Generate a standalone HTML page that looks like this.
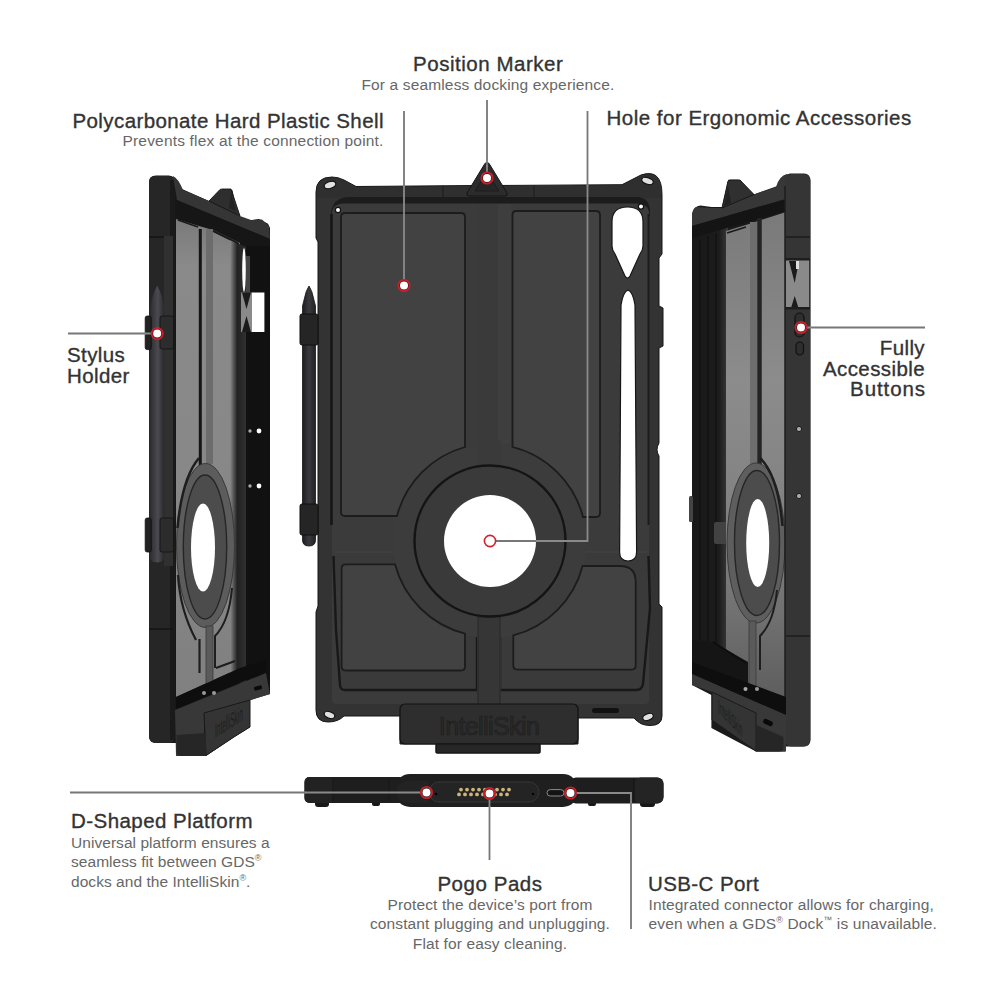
<!DOCTYPE html>
<html><head><meta charset="utf-8">
<style>
html,body{margin:0;padding:0;background:#fff;}
body{width:1000px;height:1000px;position:relative;overflow:hidden;font-family:"Liberation Sans",sans-serif;}
.t{position:absolute;white-space:nowrap;font-weight:normal;font-size:20.5px;line-height:20px;color:#333;-webkit-text-stroke:0.35px #333;letter-spacing:0.4px;}
.s{position:absolute;white-space:nowrap;font-size:15.5px;line-height:19.4px;color:#676767;letter-spacing:0.1px;}
svg{position:absolute;left:0;top:0;}
sup{font-size:9px;vertical-align:6px;line-height:0;}
</style></head><body>
<svg width="1000" height="1000" viewBox="0 0 1000 1000">
<defs>
  <linearGradient id="lgreyL" x1="0" y1="0" x2="0" y2="1">
    <stop offset="0" stop-color="#7a7a7a"/><stop offset="0.1" stop-color="#8a8a8a"/><stop offset="0.5" stop-color="#888"/><stop offset="1" stop-color="#808080"/>
  </linearGradient>
  <linearGradient id="lgreyR" x1="0" y1="0" x2="0" y2="1">
    <stop offset="0" stop-color="#7a7a7a"/><stop offset="0.35" stop-color="#8c8c8c"/><stop offset="0.7" stop-color="#7e7e7e"/><stop offset="1" stop-color="#5e5e5e"/>
  </linearGradient>
  <linearGradient id="wallL" x1="0" y1="0" x2="1" y2="0">
    <stop offset="0" stop-color="#8a8a8a"/><stop offset="0.45" stop-color="#222"/><stop offset="1" stop-color="#303030"/>
  </linearGradient>
  <linearGradient id="wallR" x1="0" y1="0" x2="1" y2="0">
    <stop offset="0" stop-color="#181818"/><stop offset="0.75" stop-color="#1c1c1c"/><stop offset="1" stop-color="#3a3a3a"/>
  </linearGradient>
  <linearGradient id="stylusG" x1="0" y1="0" x2="1" y2="0">
    <stop offset="0" stop-color="#2a2a2e"/><stop offset="0.55" stop-color="#4a4a50"/><stop offset="1" stop-color="#28282c"/>
  </linearGradient>
  <linearGradient id="stylusC" x1="0" y1="0" x2="1" y2="0">
    <stop offset="0" stop-color="#1e1e22"/><stop offset="0.5" stop-color="#3a3a3e"/><stop offset="1" stop-color="#222226"/>
  </linearGradient>
</defs>

<!-- ============ CENTER CASE ============ -->
<g id="center">
  <!-- outer silhouette (frame face) -->
  <path fill="#333" stroke="#161616" stroke-width="1"
   d="M316,192 Q316,177 332,177 Q338,177 344,180 L356,186.5 L478,185.5 L487,163 L496,185.5 L622,184.7 L641,175 Q662,168 662,195 L662,254 L659,258 L659,306 L663,308 L663,346 L659,348 L659,443 Q655,450 659,456 L659,468 L659,604 L662,607 L662,716 Q662,725.5 650,725.5 Q640,725.5 634,718 L578,718 L578,744 L540,744 L540,753 L436,753 L436,744 L400,744 L400,716 L344,716 Q338,722 328,722 Q316,722 316,710 L316,612 L318,606 L318,242 L316,238 Z"/>
  <!-- top rim face darker -->
  <path fill="#2f2f2f" d="M317,192 Q317,178 332,178 L344,181 L356,187.5 L622,185.7 L641,176 Q660,170 660.5,195 L660.5,198 L317,198 Z"/>
  <!-- shadow band under rim -->
  <path fill="#1c1c1c" d="M331,216 Q331,197 350,197 L636,197 Q650,197 650,212 L650,216 L645,216 Q645,204 636,204 L344,204 Q336,204 336,216 Z"/>
  <!-- inner surface -->
  <path fill="#3b3b3b" d="M344,203.5 L636,203.5 Q649,203.5 649,214 L649,700 Q649,704 645,704 L336,704 Q332,704 332,700 L332,214 Q332,203.5 344,203.5 Z"/>
  <!-- side grooves -->
  <path d="M331.5,214 L331.5,525" stroke="#161616" stroke-width="2.6" fill="none"/>
  <path d="M648.5,214 L648.5,525" stroke="#1c1c1c" stroke-width="2" fill="none"/>
  <!-- lower raised sub-panels -->
  <path fill="#3a3a3a" d="M338,553 L476.6,553 L476.6,689.5 L344,689.5 Q340,689.5 340,685 L336,630 L333.5,558 Q333.5,553 338,553 Z"/>
  <path fill="#3a3a3a" d="M500,553 L643,553 Q648,553 648,558 L650,608 L643,684 Q642,689.5 636,689.5 L500,689.5 Z"/>
  <path fill="none" stroke="#181818" stroke-width="2.4" d="M333.5,556 L336,630 L340,685 Q340.5,690 345,690 L477,690 M477,690 L477,626"/>
  <path fill="none" stroke="#181818" stroke-width="2.4" d="M500,626 L500,690 L636,690 Q642,690 643,684 L650,608 L648.5,556"/>
  <path fill="none" stroke="#444" stroke-width="1" d="M335,552 L400,552 M580,552 L646,552"/>
  <!-- center vertical strip -->
  <rect x="477" y="204" width="24" height="500" fill="#3a3a3a"/><rect x="498" y="204" width="13" height="240" fill="#3e3e3e"/>
  <!-- hub ring -->
  <circle cx="490" cy="541" r="97" fill="#3c3c3c"/>
  
  <rect x="477" y="440" width="24" height="25" fill="#3a3a3a"/>
  <rect x="478" y="617" width="22" height="88" fill="#363636" stroke="#262626" stroke-width="1"/>
  <!-- panels -->
  <g fill="#424242" stroke="#1c1c1c" stroke-width="1.8">
    <path d="M345,213 L461,213 Q465,213 465,217 L465,447 A97,97 0 0 0 397,516 L345,516 Q341,516 341,512 L341,217 Q341,213 345,213 Z"/>
    <path d="M516,211 L596,211 Q600,211 600,215 L600,513 Q600,517 596,517 L583,517 A97,97 0 0 0 512.5,447 L512.5,215 Q512.5,211 516,211 Z"/>
    <path d="M346,564.3 L395,564.3 A97,97 0 0 0 465,633.6 L465,666.5 Q465,670.5 461,670.5 L346,670.5 Q341.6,670.5 341.6,666.5 L341.6,568.3 Q341.6,564.3 346,564.3 Z"/>
    <path d="M582.6,566 L620,566 Q635.7,566 635.7,582 L635.7,665.6 Q635.7,669.6 631.7,669.6 L517.3,669.6 Q513.3,669.6 513.3,665.6 L513.3,635.4 A97,97 0 0 0 582.6,566 Z"/>
  </g>
  <circle cx="490" cy="541" r="75.5" fill="#3a3a3a" stroke="#141414" stroke-width="2.4"/>
  <circle cx="490" cy="541" r="46" fill="#fff"/>
  <!-- holes in frame -->
  <path fill="#fff" stroke="#161616" stroke-width="1.2" d="M612,222 Q612,207 627.5,207 Q643,207 643,222 L643,246 Q643,250 640,254 L630,276 Q627.5,280 625,276 L615,254 Q612,250 612,246 Z"/>
  <path fill="#fff" stroke="#161616" stroke-width="1.2" d="M628,290 Q623,292 621,305 L619.6,552 Q619.6,561 628,561 Q636.6,561 636.6,552 L635,305 Q633,292 628,290 Z"/>
  <!-- screw holes -->
  <circle cx="338" cy="210" r="2.6" fill="#fff" stroke="#111" stroke-width="1.2"/>
  <circle cx="641" cy="206.5" r="2.6" fill="#fff" stroke="#111" stroke-width="1.2"/>
  <ellipse cx="330" cy="185" rx="6" ry="3.4" transform="rotate(-18 330 185)" fill="#e0e0e0" stroke="#111" stroke-width="1.2"/>
  <ellipse cx="647.5" cy="181" rx="6" ry="3.2" transform="rotate(18 647.5 181)" fill="#e0e0e0" stroke="#111" stroke-width="1.2"/>
  <ellipse cx="329.5" cy="715" rx="5.5" ry="3.2" transform="rotate(20 329.5 715)" fill="#e0e0e0" stroke="#111" stroke-width="1.2"/>
  <ellipse cx="648" cy="717" rx="5.5" ry="3.2" transform="rotate(-20 648 717)" fill="#e0e0e0" stroke="#111" stroke-width="1.2"/>
  <!-- segment lines on rim -->
  <path d="M534,185.5 V197 M443,185.5 V197" stroke="#1c1c1c" stroke-width="1"/>
  <!-- triangle marker -->
  <path d="M487,162.5 Q489,162.5 490,165 L507,193 Q508,196 505,196 L469,196 Q466,196 467,193 L484,165 Q485,162.5 487,162.5 Z" fill="#2c2c2c" stroke="#151515" stroke-width="1"/>
  <path d="M487,172 L475,191 L499,191 Z" fill="#262626" stroke="#1a1a1a" stroke-width="0.8"/>
  <!-- platform -->
  <rect x="400" y="704" width="178" height="40" rx="5" fill="#2e2e2e" stroke="#121212" stroke-width="1.2"/>
  <rect x="436" y="744" width="104" height="9" rx="1.5" fill="#262626" stroke="#111" stroke-width="1"/>
  <text x="489" y="735" font-family="Liberation Sans" font-size="25" fill="#2a2a2a" stroke="#1c1c1c" stroke-width="0.7" text-anchor="middle" letter-spacing="-0.6">IntelliSkin</text>
  <rect x="592" y="708" width="27" height="5" rx="2.5" fill="#111"/>
</g>

<!-- stylus center -->
<g id="stylus-c">
  <path d="M309,286 Q306,290 304,300 L302.5,306 L302.5,540 Q302.5,546 309,546 Q315.5,546 315.5,540 L315.5,306 L314,300 Q312,290 309,286 Z" fill="url(#stylusC)" stroke="#151515" stroke-width="0.8"/>
  <rect x="300" y="314" width="18" height="31" rx="2" fill="#252525" stroke="#111" stroke-width="1"/>
  <rect x="300" y="504" width="18" height="31" rx="2" fill="#252525" stroke="#111" stroke-width="1"/>
</g>

<!-- ============ LEFT CASE ============ -->
<g id="left">
  <!-- silhouette -->
  <path fill="#171717" d="M149,182 Q149,175.5 156,175.5 L169,175.5 Q176,176 182,189 L209,201 L222.6,189 L232.4,190 L238,217 L250.6,220.3 L259,219 L268,223.8 L270,228 L270,694 L250,700 L250,727 L234,737 L206,756 L176,756 L176,743 L157,743 Q149,743 149,735 Z"/>
  <!-- left frame face -->
  <rect x="149" y="176" width="26" height="567" rx="6" fill="#262626"/>
  <rect x="170" y="180" width="5" height="560" fill="#1a1a1a"/>
  <path d="M149,237 H173 M149,629 H173" stroke="#141414" stroke-width="1.5"/>
  <!-- top rim -->
  <path fill="#353535" d="M173,176 Q178,178 183,190 L209,201 L240,216 L251,220 L262,219.5 L269,226 L270,239 L177,200 Z"/>
  <path fill="#2e2e2e" stroke="#161616" stroke-width="0.9" d="M209,201 L220,189.5 Q221,189 223,189 L231,189 L240,216 Z"/><path d="M231,192 L236,211 L229,208 Z" fill="#222"/>
  <!-- channel -->
  <path fill="#161616" d="M176,200 L270,239 L270,252 L176,218 Z"/>
  <!-- grey back -->
  <path fill="url(#lgreyL)" d="M176,219 L199,226 L213,230 L240,243 L240,668 L176,697 Z"/><path d="M178,220 L198,227 M213,231 L239,244" stroke="#1a1a1a" stroke-width="1.6"/>
  <!-- inner right wall -->
  <path fill="url(#wallL)" d="M230,240 L246,247 L246,690 L230,674 Z"/>
  <!-- right frame -->
  <rect x="246" y="246" width="24" height="448" fill="#111"/>
  <!-- groove and strip -->
  <path d="M200.3,229 L200.3,505" stroke="#151515" stroke-width="3" fill="none"/>
  <rect x="206" y="229" width="7" height="235" fill="#6c6c6c"/>
  <path d="M213,231 L238,243" stroke="#1a1a1a" stroke-width="1.5"/>
  <!-- window -->
  <rect x="241" y="292.5" width="11" height="39.5" fill="#8a8a8a"/>
  <rect x="252" y="292.5" width="12.4" height="39.5" fill="#fff"/>
  <path d="M242,292.5 L251,292.5 L246.5,309 Z M246.5,316 L251,332 L242,332 Z" fill="#1a1a1a"/>
  <ellipse cx="244" cy="270" rx="1.8" ry="22" fill="#fff"/>
  <rect x="246" y="256" width="4" height="36" fill="#444"/>
  <!-- hub -->
  <ellipse cx="205.5" cy="545.5" rx="29" ry="82" fill="#5c5c5c" stroke="#3a3a3a" stroke-width="1"/>
  <ellipse cx="205" cy="547" rx="21.7" ry="72" fill="#4c4c4c" stroke="#262626" stroke-width="1.4"/>
  <ellipse cx="203" cy="547.5" rx="12" ry="44" fill="#fff"/>
  <path d="M199,458 Q182,478 177.5,528" stroke="#1e1e1e" stroke-width="2.5" fill="none"/><path d="M178,575 Q180,610 196,640" stroke="#1e1e1e" stroke-width="2.2" fill="none"/>
  <rect x="206" y="626" width="7" height="67" fill="#5a5a5a" stroke="#3a3a3a" stroke-width="0.8"/><path d="M232,588 Q229,622 215,636 L215,668 M216,668 L235,661" stroke="#1e1e1e" stroke-width="2" fill="none"/><path d="M199.5,639 L199.5,673" stroke="#1e1e1e" stroke-width="2.2"/>
  <!-- dots -->
  <circle cx="259" cy="431" r="2.4" fill="#fff"/>
  <circle cx="259" cy="486" r="2.4" fill="#fff"/>
  <circle cx="250" cy="431" r="1.7" fill="#aaa"/>
  <circle cx="250" cy="486" r="1.7" fill="#aaa"/>
  <!-- bottom band -->
  <path fill="#0e0e0e" d="M176,697 L240,668 L266,660 L266,672 L176,709 Z"/>
  <path fill="#383838" d="M175,710 L266,673 L270,694 L251,700 L204,713 L204,756 L176,756 Z"/>
  <circle cx="204" cy="693" r="2" fill="#999"/>
  <circle cx="214" cy="693" r="2" fill="#999"/>
  <!-- platform face -->
  <path fill="#343434" stroke="#1a1a1a" stroke-width="1" d="M204,713 L250,700 L250,727 L234,737 L206,755.5 Z"/>
  <path fill="#262626" d="M176.6,735 L206,733 L206,756 L181,756 Q176.6,756 176.6,751 Z"/>
  <rect x="254" y="686" width="8" height="4" rx="1.5" fill="#0a0a0a" transform="rotate(-15 258 688)"/>
  <text x="0" y="0" font-family="Liberation Sans" font-size="21" fill="#1e1e1e" transform="matrix(0.31,-0.2,0,1,215,738)">IntelliSkin</text>
  <!-- stylus -->
  <rect x="164" y="236" width="9" height="330" fill="#303030"/>
  <path d="M157.2,285.5 Q151,296 150,312 L149.6,556 Q149.6,562.5 157,562.5 Q164.4,562.5 164.4,556 L164.4,312 Q163.5,296 157.2,285.5 Z" fill="url(#stylusG)"/>
  <rect x="145.2" y="316" width="6" height="33.6" rx="2" fill="#222" stroke="#0e0e0e" stroke-width="0.8"/>
  <rect x="160" y="316" width="13.6" height="33" rx="2" fill="#2c2c2c" stroke="#121212" stroke-width="0.8"/>
  <rect x="145.2" y="518" width="6" height="34" rx="2" fill="#222" stroke="#0e0e0e" stroke-width="0.8"/>
  <rect x="160" y="518" width="13.6" height="34" rx="2" fill="#2c2c2c" stroke="#121212" stroke-width="0.8"/>
</g>

<!-- ============ RIGHT CASE ============ -->
<g id="right">
  <path fill="#1a1a1a" d="M692,214 Q694,206 700.4,205.6 L711.6,207 L722,207 L728.4,179.7 L738.2,179.7 L753.6,194.4 L777.4,186 Q780,175 790,173.4 L804,173.4 Q810.4,173.4 810.4,181 L810.4,739 Q810.4,746.5 803,746.5 L785,746.5 L785,751.6 L756,751.6 L711.4,728 L711.4,695 L692,685 Z"/>
  <!-- left inner wall -->
  <rect x="692" y="214" width="36" height="471" fill="url(#wallR)"/>
  <path d="M700,240 V660 M708,236 V665 M716,233 V668" stroke="#111" stroke-width="1.2"/><rect x="689" y="496" width="4" height="26" rx="1.5" fill="#444"/><rect x="714" y="522" width="15" height="22" rx="2" fill="#424242"/><circle cx="728.5" cy="528" r="1" fill="#111"/><circle cx="728.5" cy="542" r="1" fill="#111"/>
  <!-- top rim -->
  <path fill="#373737" d="M692,215 Q693,207 697,207 L710,208 L721,208 L754,194.5 L776,187 Q779,176 787,174 L786,199 L692,226 Z"/>
  <path fill="#303030" stroke="#161616" stroke-width="0.9" d="M722,208 L728,181 Q729,180 731,180 L740,180 L754,194.5 Z"/><path d="M728,186 L724,206 L731,203 Z" fill="#222"/>
  <!-- channel -->
  <path fill="#141414" d="M692,226 L786,199 L786,211 L692,238 Z"/>
  <!-- grey back -->
  <path fill="url(#lgreyR)" d="M726,231 L749,224 L755,222 L786,212 L786,698 L726,676 Z"/><path d="M727,233 L746,227" stroke="#1a1a1a" stroke-width="1.6"/>
  
  <rect x="750" y="222" width="7" height="242" fill="#6e6e6e"/>
  <path d="M759.5,218 L759.5,505" stroke="#242424" stroke-width="4.5" fill="none"/>
  <!-- hub -->
  <ellipse cx="756" cy="543" rx="29" ry="80" fill="#5e5e5e" stroke="#3a3a3a" stroke-width="1"/>
  <ellipse cx="757" cy="543" rx="22.5" ry="72.5" fill="#4c4c4c" stroke="#262626" stroke-width="1.4"/>
  <ellipse cx="757.7" cy="543" rx="11.5" ry="44" fill="#fff"/>
  <path d="M760,458 Q778,475 782.5,526" stroke="#1e1e1e" stroke-width="2.5" fill="none"/>
  <rect x="749" y="621" width="7" height="66" fill="#5a5a5a" stroke="#3a3a3a" stroke-width="0.8"/><path d="M777,590 Q774,622 760,636 L760,670" stroke="#1e1e1e" stroke-width="2" fill="none"/>
  <!-- right frame -->
  <rect x="785" y="174" width="25.4" height="572.5" rx="6" fill="#353535"/>
  <path d="M785,186 V745" stroke="#1e1e1e" stroke-width="1.5"/>
  <path d="M786,237 H810" stroke="#1c1c1c" stroke-width="1.5"/>
  <rect x="786" y="259.5" width="23" height="48.5" fill="#8a8a8a"/>
  <path d="M789,261 L799,261 L794.7,283 Z M794.7,296 L798.5,308 L791,308 Z" fill="#1a1a1a"/>
  <rect x="796" y="261" width="3" height="8" fill="#ddd"/>
  <rect x="785" y="258" width="25" height="2.5" fill="#1e1e1e"/>
  <rect x="785" y="307" width="25" height="2.5" fill="#1e1e1e"/>
  <rect x="795" y="313" width="9" height="24" rx="4.5" fill="#2e2e2e" stroke="#111" stroke-width="1.2"/>
  <rect x="796" y="342" width="7.5" height="13" rx="3.7" fill="#2e2e2e" stroke="#111" stroke-width="1.2"/>
  <path d="M786,636 H810" stroke="#1c1c1c" stroke-width="1.5"/>
  <circle cx="799" cy="429" r="2.6" fill="#aaa" stroke="#1a1a1a" stroke-width="1"/>
  <circle cx="799" cy="496" r="2.6" fill="#aaa" stroke="#1a1a1a" stroke-width="1"/>
  <!-- bottom band -->
  <path fill="#151515" d="M692,640 L713,642 L748,662 L748,684 L692,664 Z"/><path d="M713,642 L746,663" stroke="#0e0e0e" stroke-width="1.6"/><path fill="#0e0e0e" d="M692,662 L786,697 L786,715 L692,674 Z"/>
  <path fill="#383838" d="M692,674 L786,715 L786,751.6 L756,751.6 L712,720 L712,692 L692,685 Z"/>
  <circle cx="745.5" cy="689" r="2" fill="#aaa"/>
  <circle cx="757" cy="689" r="2" fill="#999"/>
  <path fill="#343434" stroke="#1a1a1a" stroke-width="1" d="M712,692 L756,713 L756,751 L712,720 Z"/>
  <path fill="#262626" d="M756,725 L783.5,737 L783.5,747 Q783.5,751.5 779,751.5 L756,751.5 Z"/>
  <rect x="763" y="720" width="10" height="5" rx="2" fill="#0a0a0a" transform="rotate(25 768 722.5)"/>
  <text x="0" y="0" font-family="Liberation Sans" font-size="19" fill="#1e1e1e" transform="matrix(0.3,0.31,0,1,718,712)">IntelliSkin</text>
</g>

<!-- ============ BOTTOM EDGE ============ -->
<g id="edge">
  <rect x="315" y="800" width="14" height="7" rx="3" fill="#181818"/>
  <rect x="372" y="800" width="8" height="6" rx="2" fill="#181818"/>
  <rect x="588" y="800" width="8" height="6" rx="2" fill="#181818"/>
  <rect x="640" y="800" width="15" height="7" rx="3" fill="#181818"/>
  <rect x="304.5" y="777" width="100" height="26" rx="5" fill="#1e1e1e"/>
  <rect x="304.5" y="777" width="29" height="26" rx="5" fill="#222"/>
  <path d="M333,779 V801 M389,779 V801" stroke="#161616" stroke-width="1"/>
  <rect x="570" y="777.5" width="93.5" height="26" rx="6" fill="#1e1e1e"/>
  <rect x="634" y="777.5" width="29.5" height="26" rx="7" fill="#242424"/>
  <path d="M634,779 V802" stroke="#151515" stroke-width="1.2"/>
  <rect x="395" y="774" width="183" height="33" rx="15" fill="#1f1f1f"/>
  <path d="M398,790 Q398,781 410,781 L428,781 L428,803 L410,803 Q398,803 398,794 Z" fill="#232323"/>
  <rect x="429" y="782" width="110" height="20" rx="10" fill="#242424" stroke="#363636" stroke-width="1"/>
  <circle cx="436" cy="794" r="1.3" fill="#050505"/>
  <circle cx="533" cy="794" r="1.3" fill="#050505"/>
  <rect x="547" y="789.6" width="17" height="6.4" rx="3.2" fill="#141414" stroke="#8a8a8a" stroke-width="1"/>
  <g fill="#cdb47a"><circle cx="461" cy="789.6" r="1.9"/><circle cx="467" cy="789.6" r="1.9"/><circle cx="473" cy="789.6" r="1.9"/><circle cx="479" cy="789.6" r="1.9"/><circle cx="485" cy="789.6" r="1.9"/><circle cx="491" cy="789.6" r="1.9"/><circle cx="497" cy="789.6" r="1.9"/><circle cx="503" cy="789.6" r="1.9"/><circle cx="509" cy="789.6" r="1.9"/><circle cx="459" cy="794.4" r="1.9"/><circle cx="465" cy="794.4" r="1.9"/><circle cx="471" cy="794.4" r="1.9"/><circle cx="477" cy="794.4" r="1.9"/><circle cx="483" cy="794.4" r="1.9"/><circle cx="489" cy="794.4" r="1.9"/><circle cx="495" cy="794.4" r="1.9"/><circle cx="501" cy="794.4" r="1.9"/><circle cx="507" cy="794.4" r="1.9"/></g>
</g>

<!-- ============ POINTER LINES ============ -->
<g stroke="#777" stroke-width="1.8" fill="none">
  <path d="M404,111 V187 M487,100 V166 M587.5,111 V186 M495,541 H537 M68,333.5 H146 M810,327.5 H925 M70,792.5 H306 M489.5,806 V860 M631,802 V929"/>
</g>
<g stroke="#8a8a8a" stroke-width="1.8" fill="none">
  <path d="M404,186 V280 M487,165 V172 M587.5,185 V541 H536 M145,333.5 H151 M806,327.5 H811 M305,792.5 H421 M489.5,799 V807 M576,793 H631 V803"/>
</g>
<!-- markers -->
<g>
  <circle cx="404" cy="285.5" r="5.6" fill="#1a1a1a" stroke="#c8202a" stroke-width="1.9"/><circle cx="404" cy="285.5" r="4" fill="#fff"/>
  <circle cx="487" cy="178" r="5.6" fill="#1a1a1a" stroke="#c8202a" stroke-width="1.9"/><circle cx="487" cy="178" r="4" fill="#fff"/>
  <circle cx="490" cy="541" r="5.6" fill="#fff" stroke="#d0222a" stroke-width="1.6"/>
  <circle cx="157.2" cy="333.6" r="5.6" fill="#1a1a1a" stroke="#c8202a" stroke-width="1.9"/><circle cx="157.2" cy="333.6" r="4" fill="#fff"/>
  <circle cx="801" cy="327.5" r="5.6" fill="#1a1a1a" stroke="#c8202a" stroke-width="1.9"/><circle cx="801" cy="327.5" r="4" fill="#fff"/>
  <circle cx="426.5" cy="792.5" r="5.6" fill="#1a1a1a" stroke="#c8202a" stroke-width="1.9"/><circle cx="426.5" cy="792.5" r="4" fill="#fff"/>
  <circle cx="489.5" cy="793.5" r="5.6" fill="#1a1a1a" stroke="#c8202a" stroke-width="1.9"/><circle cx="489.5" cy="793.5" r="4" fill="#fff"/>
  <circle cx="570.5" cy="793" r="5.6" fill="#1a1a1a" stroke="#c8202a" stroke-width="1.9"/><circle cx="570.5" cy="793" r="4" fill="#fff"/>
</g>
</svg>
<div class="t" style="left:413px;top:53.5px;letter-spacing:0.53px;">Position Marker</div>
<div class="s" style="left:361.5px;top:74.5px;letter-spacing:0.14px;">For a seamless docking experience.</div>
<div class="t" style="left:72.5px;top:111px;">Polycarbonate Hard Plastic Shell</div>
<div class="s" style="left:122.5px;top:131px;letter-spacing:0.18px;">Prevents flex at the connection point.</div>
<div class="t" style="left:606.5px;top:108px;letter-spacing:0.49px;">Hole for Ergonomic Accessories</div>
<div class="t" style="left:67px;top:345px;line-height:20.6px;">Stylus<br>Holder</div>
<div class="t" style="left:760px;top:338px;width:165px;text-align:right;line-height:20.5px;">Fully<br>Accessible<br><span style="letter-spacing:0.9px;margin-right:-0.9px">Buttons</span></div>
<div class="t" style="left:71px;top:811px;letter-spacing:0.45px;">D-Shaped Platform</div>
<div class="s" style="left:71px;top:832.5px;line-height:19.5px;letter-spacing:0.05px;">Universal platform ensures a<br>seamless fit between GDS<sup>®</sup><br>docks and the IntelliSkin<sup>®</sup>.</div>
<div class="t" style="left:390px;top:874px;width:200px;text-align:center;letter-spacing:0.55px;">Pogo Pads</div>
<div class="s" style="left:340px;top:894.5px;width:300px;text-align:center;line-height:19.5px;letter-spacing:0.12px;">Protect the device’s port from<br>constant plugging and unplugging.<br>Flat for easy cleaning.</div>
<div class="t" style="left:648px;top:874px;">USB-C Port</div>
<div class="s" style="left:648.5px;top:894.5px;line-height:19.5px;letter-spacing:0.13px;">Integrated connector allows for charging,<br>even when a GDS<sup>®</sup> Dock<sup>™</sup> is unavailable.</div>
</body></html>
